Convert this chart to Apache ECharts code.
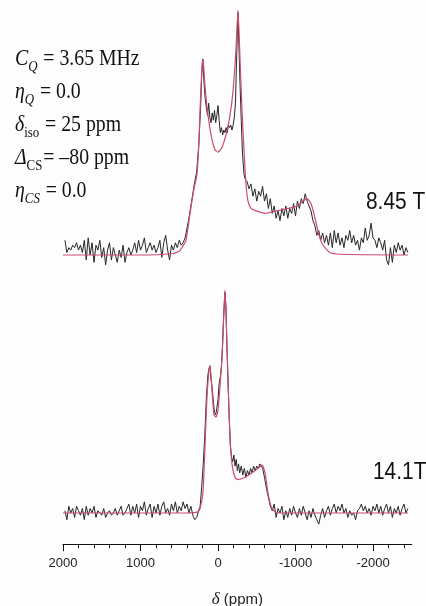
<!DOCTYPE html>
<html>
<head>
<meta charset="utf-8">
<script src="https://cdn.jsdelivr.net/npm/echarts@6/dist/echarts.min.js"></script>
<style>
html,body{margin:0;padding:0;background:#fdfdfd;}
#c{width:426px;height:606px;}
</style>
</head>
<body>
<div id="c"></div>
<script>
// ---- data (ppm, normalized intensity; 100 = tallest peak of each spectrum) ----
const fieldLabels = ['8.45 T', '14.1T'];
const majorTicks = [2000, 1000, 0, -1000, -2000];
const minorTicks = [2000,1800,1600,1400,1200,1000,800,600,400,200,0,-200,-400,-600,-800,-1000,-1200,-1400,-1600,-1800,-2000,-2200,-2400];
const paramLines = [
  '{it|C}{subit|Q} = 3.65 MHz',
  '{it|η}{subit|Q} = 0.0',
  '{it|δ}{sub|iso} = 25 ppm',
  '{it|Δ}{sub|CS}= –80 ppm',
  '{it|η}{subit|CS} = 0.0'
];

const simTop = [[2000,0],[1000,0],[600,0.5],[500,1.5],[465,3],[413,6],[361,17],[310,27],[271,33],[245,47],[232,59],[206,77],[194,80],[168,69],[129,57],[77,47],[39,43],[0,42],[-52,44],[-103,49],[-155,57],[-194,67],[-232,84],[-258,100],[-284,80],[-310,59],[-335,43],[-361,29],[-387,22],[-426,19],[-490,18],[-606,17],[-761,18],[-903,19],[-1019,20],[-1097,22],[-1148,23],[-1200,21],[-1252,15],[-1303,8],[-1355,4],[-1445,1],[-1574,0.3],[-2450,0]];

const expTop = [[1975,6],[1950,1],[1925,3],[1900,2],[1875,4],[1850,3],[1825,5],[1800,2],[1775,4],[1750,1],[1725,6],[1700,-2],[1675,7],[1650,0],[1625,5],[1600,-3],[1575,4],[1550,2],[1525,6],[1500,-1],[1475,3],[1450,-4],[1425,2],[1400,5],[1375,-2],[1350,3],[1325,0],[1300,-3],[1275,2],[1250,-1],[1225,4],[1200,-3],[1175,1],[1150,3],[1125,0],[1100,2],[1075,5],[1050,1],[1025,6],[1000,2],[975,4],[950,7],[925,1],[900,3],[875,5],[850,2],[825,4],[800,1],[775,3],[750,6],[725,-1],[700,5],[675,8],[650,2],[625,-2],[600,4],[575,2],[550,5],[525,3],[500,6],[475,4],[450,5],[425,7],[400,11],[375,15],[350,20],[325,25],[300,30],[275,34],[250,44],[225,60],[210,74],[195,80],[180,70],[165,64],[150,60],[135,57],[120,62],[105,56],[90,54],[75,58],[60,55],[45,59],[30,54],[15,57],[0,61],[-15,55],[-30,50],[-45,52],[-60,49],[-75,51],[-90,50],[-105,52],[-120,50],[-135,53],[-150,52],[-165,53],[-180,51],[-195,53],[-210,56],[-225,62],[-240,80],[-250,92],[-258,99],[-270,85],[-285,69],[-300,55],[-315,42],[-335,33],[-350,31],[-375,30],[-400,27],[-425,29],[-450,24],[-475,27],[-500,22],[-525,26],[-550,24],[-575,28],[-600,22],[-625,25],[-650,19],[-675,23],[-700,17],[-725,20],[-750,15],[-775,18],[-800,14],[-825,19],[-850,16],[-875,20],[-900,15],[-925,19],[-950,17],[-975,21],[-1000,16],[-1025,22],[-1050,19],[-1075,23],[-1100,21],[-1125,25],[-1150,22],[-1175,20],[-1200,18],[-1225,14],[-1250,12],[-1275,8],[-1300,10],[-1325,6],[-1350,9],[-1375,5],[-1400,8],[-1425,4],[-1450,9],[-1475,3],[-1500,10],[-1525,5],[-1550,9],[-1575,4],[-1600,7],[-1625,3],[-1650,8],[-1675,6],[-1700,10],[-1725,5],[-1750,8],[-1775,4],[-1800,6],[-1825,2],[-1850,7],[-1875,5],[-1900,11],[-1925,6],[-1950,8],[-1975,13],[-2000,7],[-2025,6],[-2050,3],[-2075,7],[-2100,5],[-2125,2],[-2150,6],[-2175,-2],[-2200,-4],[-2225,3],[-2250,-3],[-2275,4],[-2300,1],[-2325,5],[-2350,2],[-2375,4],[-2400,0],[-2425,3],[-2450,1]];

const simBottom = [[2000,0],[400,0],[260,0.5],[232,2],[194,9],[168,30],[142,52],[116,64],[103,66],[77,55],[52,44],[26,43],[0,46],[-26,57],[-52,70],[-77,91],[-90,100],[-103,90],[-129,60],[-155,34],[-181,22],[-219,16],[-258,15],[-348,16],[-439,18],[-516,20],[-568,21.5],[-606,18],[-645,9],[-684,3],[-735,0.5],[-800,0],[-2450,0]];

const expBottom = [[1975,1],[1950,-3],[1925,3],[1900,0],[1875,2],[1850,-2],[1825,3],[1800,1],[1775,-1],[1750,2],[1725,-3],[1700,3],[1675,-1],[1650,2],[1625,0],[1600,3],[1575,-2],[1550,1],[1525,0],[1500,-1],[1475,2],[1450,-2],[1425,0],[1400,1],[1375,-1],[1350,0],[1325,2],[1300,-1],[1275,1],[1250,3],[1225,-1],[1200,0],[1175,2],[1150,4],[1125,-1],[1100,3],[1075,0],[1050,4],[1025,-2],[1000,3],[975,1],[950,5],[925,-1],[900,2],[875,4],[850,-2],[825,3],[800,0],[775,4],[750,-1],[725,3],[700,5],[675,0],[650,2],[625,-1],[600,4],[575,1],[550,5],[525,0],[500,3],[475,1],[450,5],[425,2],[400,4],[375,0],[350,3],[325,-1],[300,-3],[275,-2],[250,1],[230,3],[210,12],[190,22],[170,35],[150,52],[130,62],[115,65],[103,66],[90,60],[75,56],[60,50],[45,45],[30,44],[15,47],[0,51],[-15,58],[-30,61],[-45,66],[-60,76],[-75,90],[-90,99],[-103,92],[-115,75],[-130,58],[-145,42],[-160,30],[-175,25],[-190,23],[-205,26],[-220,21],[-235,24],[-250,19],[-265,22],[-280,18],[-300,21],[-320,17],[-340,20],[-360,16],[-380,19],[-400,17],[-420,20],[-440,18],[-460,21],[-480,19],[-500,21],[-520,20],[-540,22],[-560,21],[-575,20],[-600,16],[-625,11],[-650,7],[-675,3],[-700,1],[-725,4],[-750,-2],[-775,2],[-800,0],[-825,3],[-850,-3],[-875,1],[-900,-2],[-925,2],[-950,-1],[-975,3],[-1000,0],[-1025,-2],[-1050,2],[-1075,-1],[-1100,3],[-1125,0],[-1150,-3],[-1175,1],[-1200,-2],[-1225,2],[-1250,-1],[-1275,-3],[-1300,-5],[-1325,-1],[-1350,2],[-1375,-2],[-1400,1],[-1425,3],[-1450,-1],[-1475,2],[-1500,4],[-1525,0],[-1550,3],[-1575,1],[-1600,4],[-1625,0],[-1650,2],[-1675,-2],[-1700,1],[-1725,-1],[-1750,0],[-1775,-3],[-1800,1],[-1825,2],[-1850,4],[-1875,1],[-1900,3],[-1925,0],[-1950,2],[-1975,-1],[-2000,3],[-2025,1],[-2050,4],[-2075,0],[-2100,3],[-2125,-1],[-2150,2],[-2175,4],[-2200,0],[-2225,3],[-2250,-2],[-2275,2],[-2300,0],[-2325,3],[-2350,-1],[-2375,2],[-2400,4],[-2425,0],[-2450,2]];

// ---- chart ----
const chart = echarts.init(document.getElementById('c'), null, {renderer: 'canvas'});
const expColor = '#262626';
const simColor = '#cc4c6c';
const xBase = {type: 'value', min: -2500, max: 2000, inverse: true, splitLine: {show: false}, position: 'bottom'};

const paramGraphics = paramLines.map((t, i) => ({
  type: 'text', x: 15, y: 43 + i * 33, scaleX: 0.86, z: 10,
  style: {
    text: t, fill: '#111', fontFamily: 'Liberation Serif', fontSize: 23,
    rich: {
      it: {fontStyle: 'italic', fontFamily: 'Liberation Serif', fontSize: 23},
      sub: {fontFamily: 'Liberation Serif', fontSize: 15, padding: [17, 1, 0, 0]},
      subit: {fontStyle: 'italic', fontFamily: 'Liberation Serif', fontSize: 15, padding: [17, 1, 0, 0]}
    }
  }
}));

chart.setOption({
  animation: false,
  backgroundColor: '#fdfdfd',
  grid: [
    {left: 63, width: 348.75, top: 10, height: 269.5, outerBoundsMode: 'none'},
    {left: 63, width: 348.75, top: 290, height: 254.2, outerBoundsMode: 'none'}
  ],
  xAxis: [
    Object.assign({}, xBase, {gridIndex: 0, show: false}),
    Object.assign({}, xBase, {
      gridIndex: 1,
      axisLine: {show: true, onZero: false, lineStyle: {color: '#111', width: 1}},
      axisTick: {show: true, length: 7, customValues: majorTicks, lineStyle: {color: '#111', width: 1}},
      axisLabel: {show: true, customValues: majorTicks, margin: 13, color: '#222',
        fontFamily: 'Liberation Sans', fontSize: 13, formatter: v => String(v)},
      name: '{i|δ} (ppm)', nameLocation: 'middle', nameGap: 47,
      nameTextStyle: {color: '#222', fontFamily: 'Liberation Sans', fontSize: 15,
        rich: {i: {fontStyle: 'italic', fontFamily: 'Liberation Serif', fontSize: 17, color: '#222'}}}
    }),
    Object.assign({}, xBase, {
      gridIndex: 1,
      axisLine: {show: false, onZero: false},
      axisTick: {show: true, length: 4, customValues: minorTicks, lineStyle: {color: '#111', width: 1}},
      axisLabel: {show: false}
    })
  ],
  yAxis: [
    {type: 'value', gridIndex: 0, min: -10, max: 100, show: false, splitLine: {show: false}},
    {type: 'value', gridIndex: 1, min: -14, max: 100, show: false, splitLine: {show: false}}
  ],
  series: [
    {type: 'line', xAxisIndex: 0, yAxisIndex: 0, data: expTop, symbol: 'none',
      lineStyle: {color: expColor, width: 1}, z: 2},
    {type: 'line', xAxisIndex: 0, yAxisIndex: 0, data: simTop, symbol: 'none', smooth: 0.2,
      lineStyle: {color: simColor, width: 1.2}, z: 3},
    {type: 'line', xAxisIndex: 1, yAxisIndex: 1, data: expBottom, symbol: 'none',
      lineStyle: {color: expColor, width: 1}, z: 2},
    {type: 'line', xAxisIndex: 1, yAxisIndex: 1, data: simBottom, symbol: 'none', smooth: 0.2,
      lineStyle: {color: simColor, width: 1.2}, z: 3}
  ],
  graphic: paramGraphics.concat([
    {type: 'text', x: 366, y: 190, scaleX: 0.87, z: 10,
      style: {text: fieldLabels[0], fill: '#111', fontFamily: 'Liberation Sans', fontSize: 24}},
    {type: 'text', x: 373, y: 460, scaleX: 0.87, z: 10,
      style: {text: fieldLabels[1], fill: '#111', fontFamily: 'Liberation Sans', fontSize: 24}}
  ])
});
</script>
</body>
</html>
